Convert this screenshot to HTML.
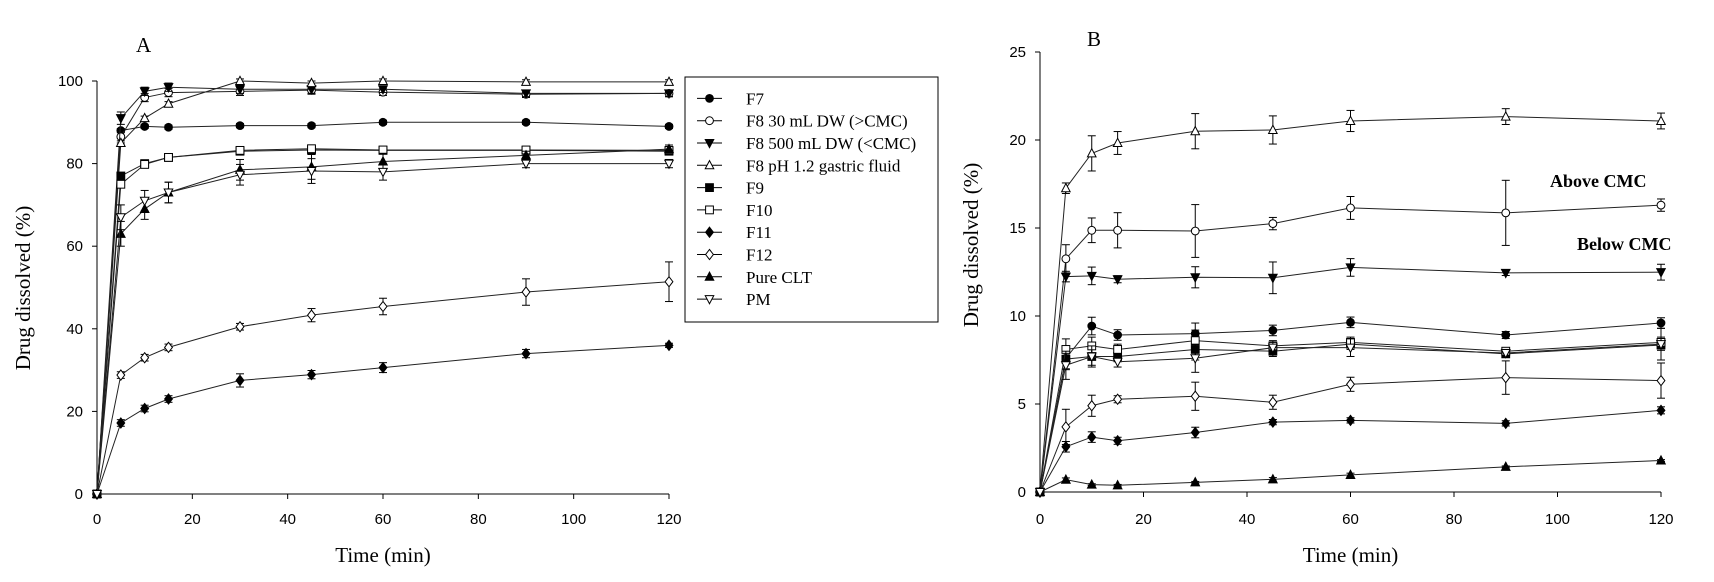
<!DOCTYPE html>
<html><head><meta charset="utf-8"><style>
html,body{margin:0;padding:0;background:#fff;}
svg{display:block;}
text{fill:#000;}
.tick{font-family:"Liberation Sans",sans-serif;font-size:15px;}
.ttl{font-family:"Liberation Serif",serif;font-size:21px;}
.leg{font-family:"Liberation Serif",serif;font-size:17px;}
</style></head><body>
<svg id="chart" width="1714" height="582" viewBox="0 0 1714 582" xmlns="http://www.w3.org/2000/svg"></svg>
<script>
const times = [0,5,10,15,30,45,60,90,120];
const seriesNames = ["F7","F8 30 mL DW (>CMC)","F8 500 mL DW (<CMC)","F8 pH 1.2 gastric fluid","F9","F10","F11","F12","Pure CLT","PM"];
const seriesKeys = ["f7","f8-30ml","f8-500ml","f8-ph12","f9","f10","f11","f12","pure-clt","pm"];
const markers = ["circle-f","circle-o","tdown-f","tup-o","square-f","square-o","diamond-f","diamond-o","tup-f","tdown-o"];
// Panel A values (%)
const aF7 = [0,88,89,88.8,89.2,89.2,90,90,89];
const aF8_30 = [0,86.5,96,97.2,97.5,97.8,97.3,96.8,97];
const aF8_500 = [0,91,97.5,98.5,98,98,98,97,97];
const aF8_ph = [0,85,91,94.5,100,99.5,100,99.8,99.8];
const aF9 = [0,77,80,81.5,83,83.3,83.2,83.2,83];
const aF10 = [0,75,79.8,81.5,83.2,83.6,83.3,83.3,83.2];
const aF11 = [0,17.2,20.7,23,27.5,28.9,30.6,34,36];
const aF12 = [0,28.8,33,35.5,40.5,43.3,45.4,48.9,51.4];
const aCLT = [0,63,69,73,78.5,79.2,80.5,82,83.5];
const aPM = [0,67,71,73,77.3,78.2,78,80,80];
const aErr = [0,1.5,1,1,1,1,0.8,0.8,0.8];
const aErrSmall = [0,0.5,0.5,0.5,0.5,0.5,0.5,0.5,0.5];
const aErrF12 = [0,0.8,0.8,0.8,0.8,1.6,2,3.2,4.8];
const aErrF11 = [0,0.8,0.8,0.8,1.6,1,1.2,1,0.5];
const aErrCLT = [0,3,2.5,2.5,2.5,3,2,1,1];
// Panel B values (%)
const bF7 = [0,7.6,9.43,8.92,9.0,9.18,9.64,8.92,9.6];
const bF8_30 = [0,13.25,14.87,14.87,14.83,15.25,16.14,15.86,16.3];
const bF8_500 = [0,12.24,12.28,12.09,12.2,12.17,12.76,12.45,12.49];
const bF8_ph = [0,17.26,19.24,19.83,20.5,20.57,21.08,21.33,21.08];
const bF9 = [0,7.55,7.7,7.7,8.1,8.0,8.4,7.85,8.35];
const bF10 = [0,8.1,8.3,8.1,8.6,8.3,8.5,8.0,8.5];
const bF11 = [0,2.57,3.12,2.91,3.38,3.97,4.07,3.9,4.64];
const bF12 = [0,3.7,4.9,5.27,5.44,5.1,6.12,6.5,6.33];
const bCLT = [0,0.7,0.42,0.38,0.55,0.72,0.97,1.43,1.79];
const bPM = [0,7.2,7.7,7.4,7.6,8.2,8.2,7.9,8.4];
const bErrPh = [0,0.3,1,0.65,1,0.8,0.6,0.45,0.45];
const bErr30 = [0,0.8,0.7,1,1.5,0.35,0.65,1.85,0.35];
const bErr500 = [0,0.3,0.5,0.2,0.6,0.9,0.5,0.15,0.45];
const bErrMid = [0,0.6,0.5,0.3,0.6,0.3,0.3,0.2,0.3];
const bErrPM = [0,0.8,0.6,0.3,0.8,0.3,0.5,0.2,0.9];
const bErr12 = [0,1,0.6,0.2,0.8,0.4,0.4,0.95,1];
const bErr11 = [0,0.3,0.3,0.2,0.3,0.15,0.15,0.15,0.2];
const bErrCLT = [0,0.1,0.05,0.05,0.05,0.1,0.1,0.05,0.05];
const yTicksA = [0,20,40,60,80,100];
const yTicksB = [0,5,10,15,20,25];
const xTicks = [0,20,40,60,80,100,120];

const NS="http://www.w3.org/2000/svg";
const svg=document.getElementById('chart');
function mk(tag,attrs,parent){const e=document.createElementNS(NS,tag);for(const k in attrs)e.setAttribute(k,attrs[k]);(parent||svg).appendChild(e);return e;}

function marker(g,type,cx,cy){
  const r=3.9, fill=type.endsWith('-f')?'#000':'#fff';
  const st={fill:fill,stroke:'#000','stroke-width':1};
  let e;
  if(type.startsWith('circle')) e=mk('circle',Object.assign({cx:cx,cy:cy,r:r},st),g);
  else if(type.startsWith('square')) e=mk('rect',Object.assign({x:cx-r,y:cy-r,width:2*r,height:2*r},st),g);
  else if(type.startsWith('diamond')) e=mk('polygon',Object.assign({points:`${cx},${cy-r*1.3} ${cx+r},${cy} ${cx},${cy+r*1.3} ${cx-r},${cy}`},st),g);
  else if(type.startsWith('tup')) e=mk('polygon',Object.assign({points:`${cx},${cy-r*1.2} ${cx+r*1.1},${cy+r*0.9} ${cx-r*1.1},${cy+r*0.9}`},st),g);
  else e=mk('polygon',Object.assign({points:`${cx},${cy+r*1.2} ${cx+r*1.1},${cy-r*0.9} ${cx-r*1.1},${cy-r*0.9}`},st),g);
  return e;
}

function panel(id,x0,x1,y0,y1,ymax,yTicks,series,errs,title,tx,ty,ytx,yty){
  const xs=t=>x0+(x1-x0)*t/120;
  const ys=v=>y0-(y0-y1)*v/ymax;
  const g=mk('g',{});
  
  
  const ax=mk('g',{},g);
  
  
  mk('line',{x1:x0,y1:y0,x2:x0,y2:y1,stroke:'#000','stroke-width':1},ax);
  mk('line',{x1:x0,y1:y0,x2:x1,y2:y0,stroke:'#000','stroke-width':1},ax);
  yTicks.forEach(v=>{
    mk('line',{x1:x0-5,y1:ys(v),x2:x0,y2:ys(v),stroke:'#000'},ax);
    const t=mk('text',{x:x0-14,y:ys(v)+5,'text-anchor':'end',class:'tick'},ax);t.textContent=v;
    
    
  });
  xTicks.forEach(v=>{
    mk('line',{x1:xs(v),y1:y0,x2:xs(v),y2:y0+5,stroke:'#000'},ax);
    const t=mk('text',{x:xs(v),y:524,'text-anchor':'middle',class:'tick'},ax);t.textContent=v;
    
    
  });
  const xt=mk('text',{x:(x0+x1)/2,y:562,'text-anchor':'middle',class:'ttl'},g);xt.textContent='Time (min)';
  
  
  const yt=mk('text',{x:ytx,y:yty,'text-anchor':'middle',class:'ttl',transform:`rotate(-90 ${ytx} ${yty})`},g);yt.textContent='Drug dissolved (%)';
  
  
  const pt=mk('text',{x:tx,y:ty,class:'ttl','font-size':'22'},g);pt.textContent=title;
  
  
  series.forEach((vals,i)=>{
    const sg=mk('g',{},g);
    
    
    mk('polyline',{points:vals.map((v,j)=>xs(times[j])+','+ys(v)).join(' '),fill:'none',stroke:'#222','stroke-width':1},sg);
    const er=errs[i];
    vals.forEach((v,j)=>{
      const e=er[j];
      if(e>0){
        mk('line',{x1:xs(times[j]),y1:ys(v-e),x2:xs(times[j]),y2:ys(v+e),stroke:'#000'},sg);
        mk('line',{x1:xs(times[j])-4,y1:ys(v-e),x2:xs(times[j])+4,y2:ys(v-e),stroke:'#000'},sg);
        mk('line',{x1:xs(times[j])-4,y1:ys(v+e),x2:xs(times[j])+4,y2:ys(v+e),stroke:'#000'},sg);
      }
    });
    vals.forEach((v,j)=>{
      const m=marker(sg,markers[i],xs(times[j]),ys(v));
      
      
    });
  });
}

panel('a',97,669,494,81,100,yTicksA,
  [aF7,aF8_30,aF8_500,aF8_ph,aF9,aF10,aF11,aF12,aCLT,aPM],
  [aErrSmall,aErr,aErr,aErrSmall,aErrSmall,aErrSmall,aErrF11,aErrF12,aErrCLT,aErrCLT],
  'A',136,52,30,288);
panel('b',1040,1661,492,52,25,yTicksB,
  [bF7,bF8_30,bF8_500,bF8_ph,bF9,bF10,bF11,bF12,bCLT,bPM],
  [bErrMid,bErr30,bErr500,bErrPh,bErrMid,bErrMid,bErr11,bErr12,bErrCLT,bErrPM],
  'B',1087,46,978,245);

// annotations
const a1=mk('text',{x:1550,y:187,'font-family':'Liberation Serif,serif','font-weight':'bold','font-size':'18'});a1.textContent='Above CMC';


const a2=mk('text',{x:1577,y:250,'font-family':'Liberation Serif,serif','font-weight':'bold','font-size':'18'});a2.textContent='Below CMC';



// legend
const lg=mk('g',{});


mk('rect',{x:685,y:77,width:253,height:245,fill:'#fff',stroke:'#000','stroke-width':1},lg);
seriesNames.forEach((n,i)=>{
  const y=98.4+i*22.3;
  const eg=mk('g',{},lg);
  
  
  mk('line',{x1:697,y1:y,x2:722,y2:y,stroke:'#000'},eg);
  marker(eg,markers[i],709.5,y);
  const t=mk('text',{x:746,y:y+6,class:'leg'},eg);t.textContent=n;
});
</script>
</body></html>
